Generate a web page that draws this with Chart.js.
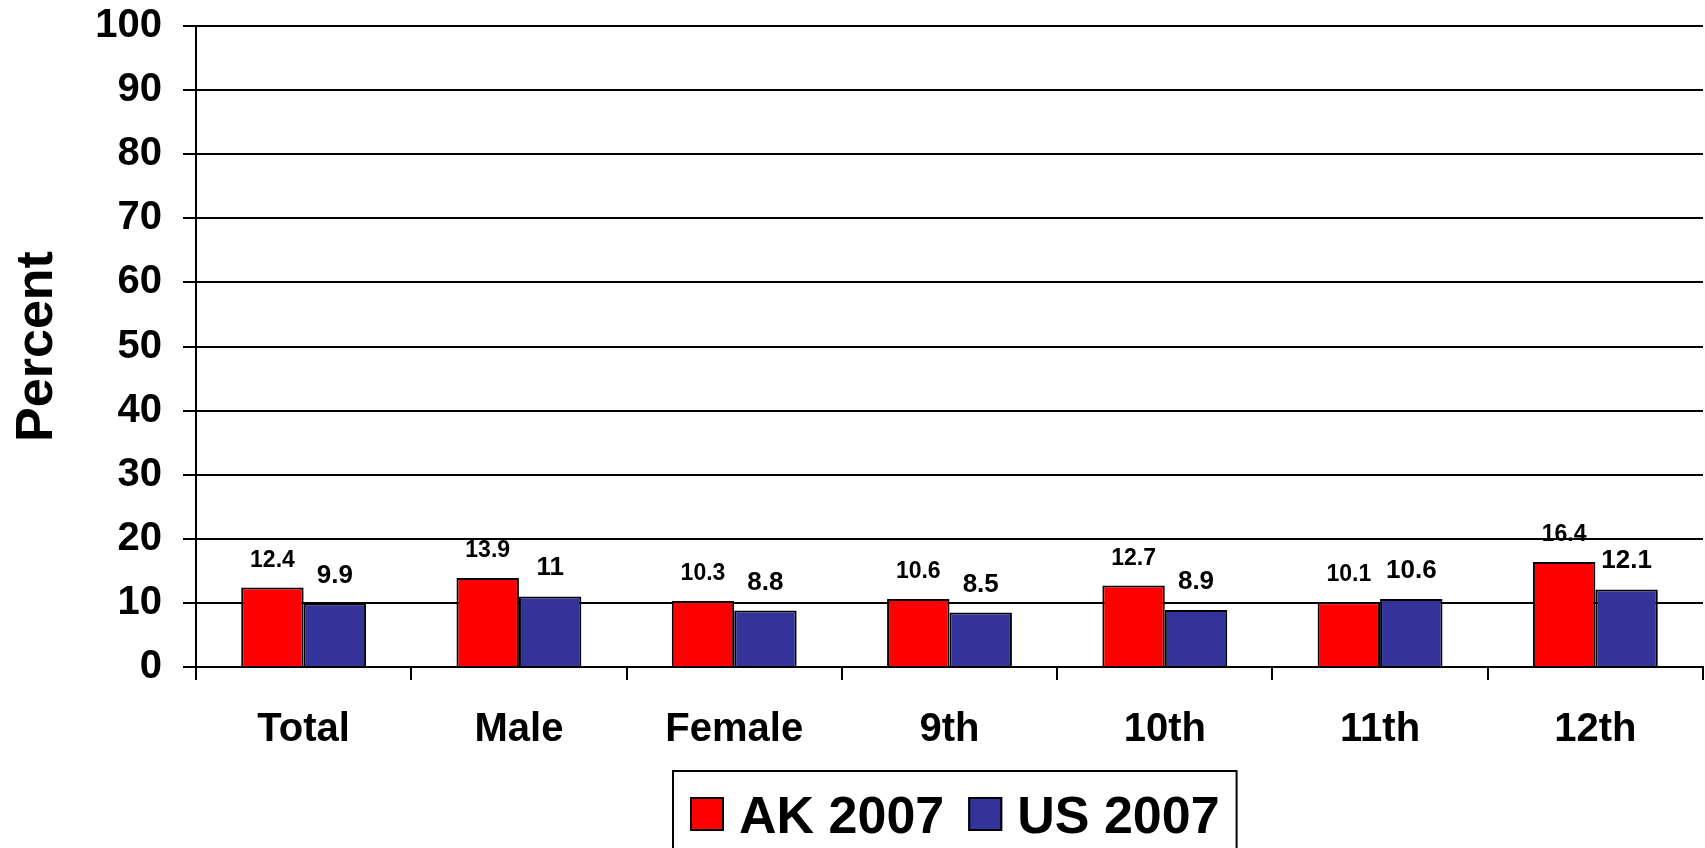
<!DOCTYPE html>
<html>
<head>
<meta charset="utf-8">
<script src="https://cdn.jsdelivr.net/npm/chart.js@4.4.1/dist/chart.umd.min.js"></script>
<style>
  html, body { margin: 0; padding: 0; background: #fff; }
  #wrap { width: 1705px; height: 848px; position: relative; }
</style>
</head>
<body>
<div id="wrap"><canvas id="chart"></canvas></div>
<script>
const categories = ['Total', 'Male', 'Female', '9th', '10th', '11th', '12th'];
const ak2007 = [12.4, 13.9, 10.3, 10.6, 12.7, 10.1, 16.4];
const us2007 = [9.9, 11, 8.8, 8.5, 8.9, 10.6, 12.1];
const seriesNames = ['AK 2007', 'US 2007'];
const yMin = 0, yMax = 100, yStep = 10;

const FONT = '"Liberation Sans", Arial, sans-serif';

// numbers above the bars
const barLabels = {
  id: 'barLabels',
  afterDatasetsDraw(chart) {
    const ctx = chart.ctx;
    const sizes = [23, 26];
    ctx.save();
    ctx.fillStyle = '#000';
    ctx.textAlign = 'center';
    ctx.textBaseline = 'alphabetic';
    chart.data.datasets.forEach((ds, i) => {
      ctx.font = 'bold ' + sizes[i] + 'px ' + FONT;
      chart.getDatasetMeta(i).data.forEach((bar, j) => {
        ctx.fillText(String(ds.data[j]), bar.x, bar.y - 21);
      });
    });
    ctx.restore();
  }
};

// boxed legend under the plot
const boxLegend = {
  id: 'boxLegend',
  afterDraw(chart) {
    const ctx = chart.ctx;
    const area = chart.chartArea;
    const sq = 34, padL = 17, padR = 17, gapText = 15, gapItem = 24;
    ctx.save();
    ctx.font = 'bold 52px ' + FONT;
    const items = chart.data.datasets.map(ds => ({
      label: ds.label, color: ds.backgroundColor, w: ctx.measureText(ds.label).width
    }));
    let total = padL + padR;
    items.forEach((it, i) => { total += sq + gapText + it.w + (i ? gapItem : 0); });
    const left = Math.round((area.left + area.right) / 2 - total / 2 + 5);
    const top = 771, cy = 814;
    ctx.lineWidth = 2;
    ctx.strokeStyle = '#000';
    ctx.strokeRect(left, top, total, 120);
    let x = left + padL;
    ctx.textBaseline = 'alphabetic';
    ctx.textAlign = 'left';
    items.forEach((it, i) => {
      if (i) x += gapItem;
      ctx.fillStyle = it.color;
      ctx.fillRect(x, cy - sq / 2, sq, sq);
      ctx.strokeRect(x + 1, cy - sq / 2 + 1, sq - 2, sq - 2);
      x += sq + gapText;
      ctx.fillStyle = '#000';
      ctx.fillText(it.label, x, cy + 19);
      x += it.w;
    });
    ctx.restore();
  }
};

new Chart(document.getElementById('chart'), {
  type: 'bar',
  data: {
    labels: categories,
    datasets: [
      { label: seriesNames[0], data: ak2007, backgroundColor: '#FF0000', borderColor: '#000', borderWidth: 2 },
      { label: seriesNames[1], data: us2007, backgroundColor: '#333399', borderColor: '#000', borderWidth: 2 }
    ]
  },
  options: {
    responsive: true,
    maintainAspectRatio: false,
    animation: false,
    layout: { padding: { top: 0, right: 2, left: 0, bottom: 0 } },
    datasets: { bar: { categoryPercentage: 0.58, barPercentage: 1.0 } },
    plugins: {
      legend: { display: false },
      tooltip: { enabled: false }
    },
    scales: {
      x: {
        grid: { display: true, drawOnChartArea: false, drawTicks: true, tickLength: 13, color: '#000', lineWidth: 2 },
        border: { display: true, color: '#000', width: 2 },
        ticks: { color: '#000', padding: 26, font: { family: FONT, size: 40, weight: 'bold' } },
        afterFit(scale) { scale.height = 181; }
      },
      y: {
        min: yMin,
        max: yMax,
        ticks: { stepSize: yStep, color: '#000', padding: 21, font: { family: FONT, size: 40, weight: 'bold' } },
        grid: { color: '#000', lineWidth: 2, drawTicks: true, tickLength: 13 },
        border: { display: true, color: '#000', width: 2 },
        title: { display: true, text: 'Percent', color: '#000', padding: { top: 6, bottom: 0 }, font: { family: FONT, size: 52, weight: 'bold' } },
        afterFit(scale) {
          scale.width = 196;
          scale.paddingTop = 26;
          scale.paddingBottom = 0;
        }
      }
    }
  },
  plugins: [barLabels, boxLegend]
});
</script>
</body>
</html>
